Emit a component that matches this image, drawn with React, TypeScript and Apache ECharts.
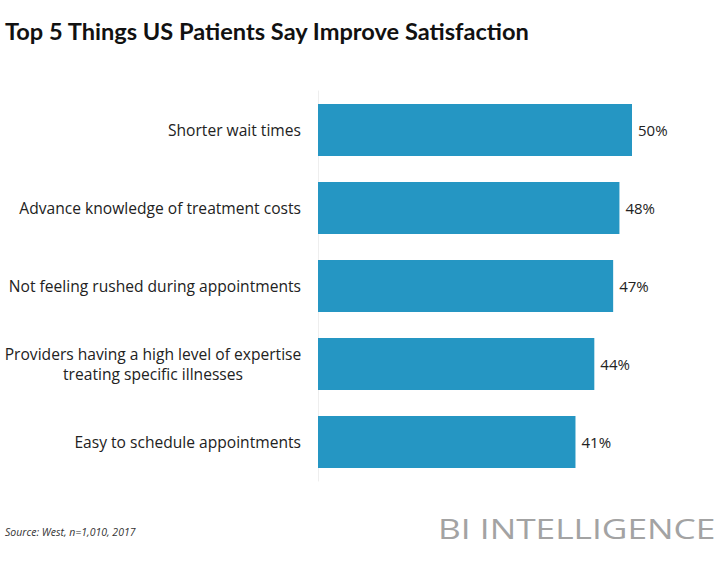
import React, { useEffect, useRef } from "react";
import * as echarts from "echarts";

const categories = [
  "Shorter wait times",
  "Advance knowledge of treatment costs",
  "Not feeling rushed during appointments",
  "Providers having a high level of expertise\ntreating specific illnesses",
  "Easy to schedule appointments",
];
const values = [50, 48, 47, 44, 41];
const titleText = "Top 5 Things US Patients Say Improve Satisfaction";
const sourceText = "Source: West, n=1,010, 2017";
const brandText = "BI INTELLIGENCE";

export default function App() {
  const ref = useRef<HTMLDivElement>(null);
  useEffect(() => {
    document.body.style.margin = "0";
    const chart = echarts.init(ref.current!, null, { renderer: "svg" });
    chart.setOption({
      animation: false,
      backgroundColor: "#ffffff",
      textStyle: { fontFamily: "Open Sans" },
      title: {
        text: titleText,
        left: 0,
        top: 14,
        textStyle: { fontFamily: "Lato", fontWeight: "bold", fontSize: 23.6, color: "#111" },
      },
      grid: { left: 318, right: 88, top: 91, bottom: 96, containLabel: false, outerBoundsMode: "none" },
      xAxis: {
        type: "value",
        min: 0,
        max: 50,
        show: false,
      },
      yAxis: {
        type: "category",
        data: categories,
        inverse: true,
        axisLine: { show: true, lineStyle: { color: "#eeeeee", width: 1 } },
        axisTick: { show: false },
        axisLabel: {
          margin: 17,
          fontSize: 15.6,
          fontFamily: "Open Sans",
          color: "#222",
          align: "right",
          lineHeight: 20,
          formatter: (v: string) =>
            v.indexOf("\n") >= 0
              ? v
                  .split("\n")
                  .map((l) => "{m|" + l + "}")
                  .join("\n")
              : v,
          rich: {
            m: {
              width: 296,
              align: "center",
              fontSize: 15.6,
              fontFamily: "Open Sans",
              color: "#222",
              lineHeight: 20,
            },
          },
        },
      },
      series: [
        {
          type: "bar",
          data: values,
          barWidth: 52,
          itemStyle: { color: "#2596c3" },
          label: {
            show: true,
            position: "right",
            distance: 6,
            formatter: "{c}%",
            fontSize: 15,
            fontFamily: "Open Sans",
            color: "#222",
          },
        },
      ],
      graphic: [
        {
          type: "text",
          left: 5,
          top: 526,
          style: { text: sourceText, fontSize: 10.5, fontStyle: "italic", fill: "#333", fontFamily: "Open Sans" },
        },
        {
          type: "text",
          x: 438,
          y: 514,
          scaleX: 1.26,
          style: { text: brandText, fontSize: 28, fill: "#a3a3a3", fontFamily: "Open Sans" },
        },
      ],
    });
    return () => chart.dispose();
  }, []);
  return <div ref={ref} style={{ width: 720, height: 577 }} />;
}
